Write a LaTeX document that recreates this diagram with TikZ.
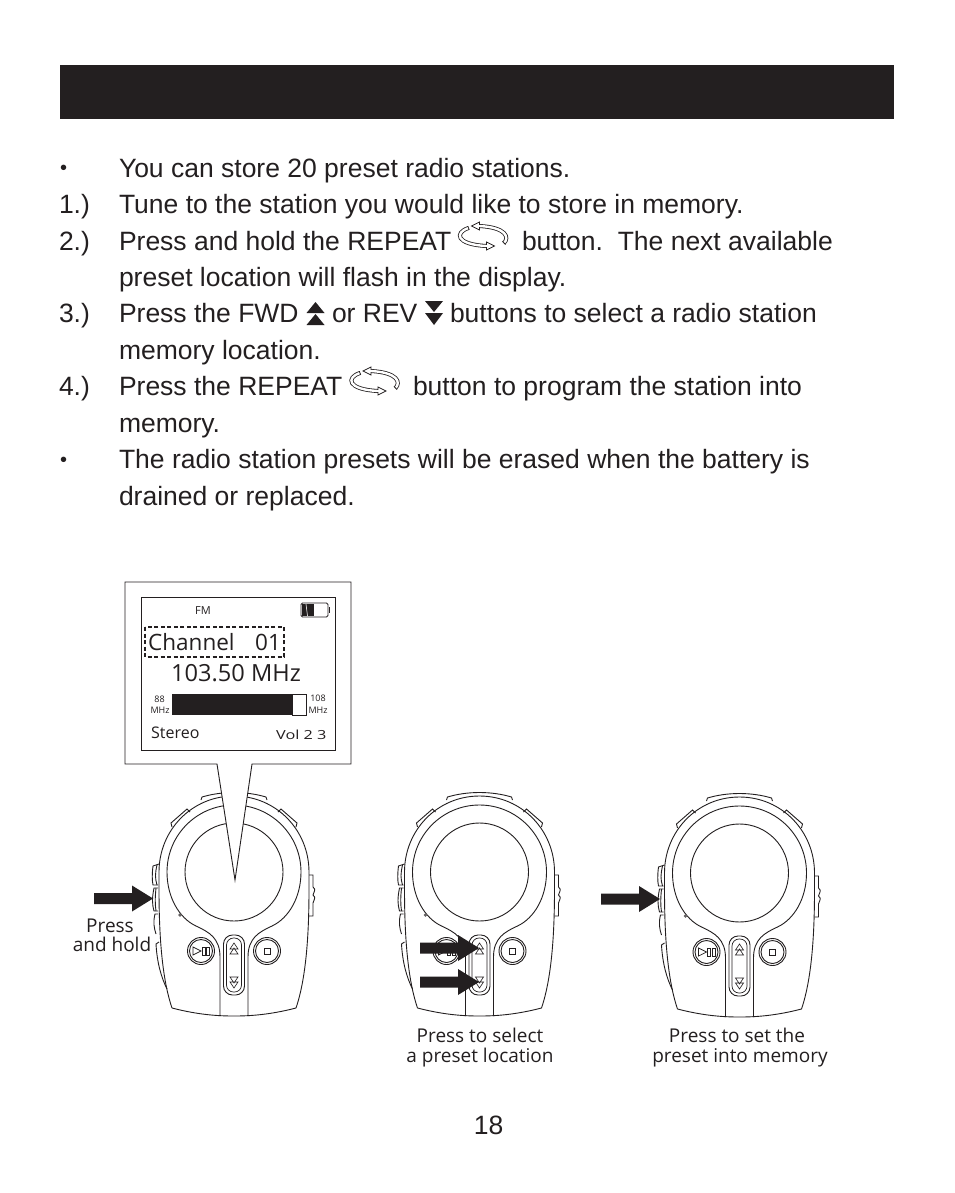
\documentclass[tikz,border=0pt]{standalone}
\usepackage{fontspec}
\usepackage{graphicx}
\setmainfont{Liberation Sans}
\newfontfamily\myr{Open Sans}
\definecolor{ink}{HTML}{231F20}
\tikzset{x=1pt,y=-1pt,
 body/.style={anchor=base west,inner sep=0pt,outer sep=0pt,text=ink,font=\fontsize{26.5}{26.5}\selectfont},
 bulletmark/.style={anchor=base west,inner sep=0pt,outer sep=0pt,text=ink,font=\fontsize{20}{20}\selectfont},
 captext/.style={anchor=base,inner sep=0pt,text=ink,font=\myr\fontsize{19}{19}\selectfont},
 lcd/.style={inner sep=0pt,text=ink},
 dev/.style={draw=ink,line width=0.9pt},
 bigarrow/.style={fill=ink,draw=none},
 rep/.style={draw=ink,line width=.8pt,double=white,double distance=2.4pt},
 rephead/.style={draw=ink,line width=.8pt,fill=white,line join=miter}}
\newcommand{\mydevice}[2]{%
\begin{scope}[shift={(#1,#2)},dev]
 % outline
 \draw[dev] (-62,136) .. controls (-76,95) and (-75,30) .. (-75,0) .. controls (-75,-42) and (-42,-76) .. (0,-76) .. controls (42,-76) and (75,-42) .. (75,0) .. controls (75,30) and (76,95) .. (62,136) .. controls (35,143) and (15,144) .. (0,144) .. controls (-15,144) and (-35,143) .. (-62,136);
 % ring and lower curves
 \draw[dev] (-14,144) -- (-14,85) .. controls (-14,66) and (-25,60) .. (-38,54) .. controls (-55,46) and (-67,25) .. (-67,0) arc[start angle=180,end angle=360,radius=67] .. controls (67,25) and (55,46) .. (38,54) .. controls (25,60) and (14,66) .. (14,85) -- (14,144);
 \draw[dev] (0,0) circle[radius=49];
 % side buttons, left
 \draw[dev] (-75,-8) -- (-81,-6) .. controls (-82,2) and (-82,8) .. (-81,13) -- (-76,13);
 \draw[dev] (-76,16) -- (-80,16) .. controls (-82,26) and (-82,32) .. (-80,39) -- (-76,39);
 \draw[dev] (-76,42) -- (-79,42) .. controls (-81,50) and (-80,56) .. (-78,62);
 \draw[dev] (-77,-7) .. controls (-79,2) and (-79,6) .. (-77,13);
 \draw[dev] (-78,16) .. controls (-79,26) and (-79,32) .. (-78,39);
 \draw[dev] (-75,70) -- (-78,72) .. controls (-77,90) and (-73,105) .. (-67,117);
 % right button
 \draw[dev] (75,3) -- (79,3) -- (79,15) .. controls (83,18) and (79,20) .. (79,23) .. controls (83,26) and (79,28) .. (79,31) -- (79,44) -- (75,44);
 % top buttons
 \draw[dev] (-33,-72) -- (-32,-75) .. controls (-12,-81) and (12,-81) .. (32,-75) -- (33,-72);
 \draw[dev] (-62,-45) -- (-63,-49) -- (-47,-63) -- (-44,-60);
 \draw[dev] (62,-45) -- (63,-49) -- (47,-63) -- (44,-60);
 % nub
 \fill[ink!70] (-54,43) circle[radius=1.8];
 % round buttons
 \draw[dev] (-33,79) circle[radius=13.5] (-33,79) circle[radius=11.5];
 \draw[dev,line width=.7pt] (-41,75) -- (-33,79) -- (-41,83) -- cycle;
 \draw[dev,line width=.7pt] (-32,75) rectangle (-29,83) (-27.5,75) rectangle (-24.5,83);
 \draw[dev] (33,79) circle[radius=13.5] (33,79) circle[radius=11.5];
 \draw[dev,line width=.7pt] (30,76) rectangle (36,82);
 % centre pill
 \draw[dev,rounded corners=9pt] (-10.5,63) rectangle (10.5,123);
 \draw[dev,rounded corners=7pt,line width=.7pt] (-7.5,66) rectangle (7.5,120);
 \draw[dev,line width=.6pt] (0,71) -- (-4,77) -- (4,77) -- cycle (0,76) -- (-4,82) -- (4,82) -- cycle;
 \draw[dev,line width=.6pt] (0,116) -- (-4,110) -- (4,110) -- cycle (0,111) -- (-4,105) -- (4,105) -- cycle;
\end{scope}}
\newcommand{\bigarr}[3]{% tail x, tip x, y
 \fill[bigarrow] (#1,#3-5.5) -- (#2-21,#3-5.5) -- (#2-21,#3-13) -- (#2,#3) -- (#2-21,#3+13) -- (#2-21,#3+5.5) -- (#1,#3+5.5) -- cycle;}
\newcommand{\repicon}[2]{%
\begin{scope}[shift={(#1,#2)}]
 \draw[rep] (-14,-8.5) .. controls (-28,-4) and (-27,8) .. (4,9.5);
 \draw[rep] (21.5,6.5) .. controls (27,1) and (24,-9) .. (-3,-10.5);
 \draw[rephead] (-3,-6.5) -- (-11,-10.5) -- (-3,-14.5) -- cycle;
 \draw[rephead] (4,5.5) -- (12,9.5) -- (4,13.5) -- cycle;
 \draw[ink,line width=.8pt] (-14.7,-10.3) -- (-13.3,-6.7) (20,4.8) -- (23,8.2);
 \draw[white,line width=1.2pt] (-3,-11.7) -- (-3,-9.3) (4,8.3) -- (4,10.7);
\end{scope}}
\begin{document}
\begin{tikzpicture}
\useasboundingbox (0,0) rectangle (954,1193);
\fill[white] (0,0) rectangle (954,1193);
\fill[ink] (60,65) rectangle (894,119);
% text
\node[bulletmark] (b1) at (60,175) {•};
\node[body] (t1) at (119,177.5) {You can store 20 preset radio stations.};
\node[body] (n1) at (59,213.5) {1.)};
\node[body] (t2) at (119,213.5) {Tune to the station you would like to store in memory.};
\node[body] (n2) at (59,250.5) {2.)};
\node[body] (t3) at (119,250.5) {Press and hold the REPEAT};
\node[body] (t3b) at (522,250.5) {button.\ \ The next available};
\node[body] (t4) at (119,286.5) {preset location will flash in the display.};
\node[body] (n3) at (59,322.5) {3.)};
\node[body] (t5) at (119,322.5) {Press the FWD};
\node[body] (t5b) at (332,322.5) {or REV};
\node[body] (t5c) at (450,322.5) {buttons to select a radio station};
\node[body] (t6) at (119,359.5) {memory location.};
\node[body] (n4) at (59,395.5) {4.)};
\node[body] (t7) at (119,395.5) {Press the REPEAT};
\node[body] (t7b) at (413,395.5) {button to program the station into};
\node[body] (t8) at (119,432.5) {memory.};
\node[bulletmark] (b2) at (60,466) {•};
\node[body] (t9) at (119,468.5) {The radio station presets will be erased when the battery is};
\node[body] (t10) at (119,505.5) {drained or replaced.};
\node[body,anchor=base] (pg) at (488.5,1134) {18};
% icons
\repicon{482.5}{236.5}
\repicon{374}{381.5}
\fill[ink] (315.5,302) -- (324.5,313) -- (306.5,313) -- cycle (315.5,314) -- (324.5,325) -- (306.5,325) -- cycle;
\fill[ink] (425,301) -- (443,301) -- (434,312) -- cycle (425,313) -- (443,313) -- (434,325) -- cycle;
% devices
\mydevice{234}{872}
\mydevice{479.5}{872}
\mydevice{739.5}{873}
% arrows
\bigarr{94}{153}{898.5}
\bigarr{420}{479}{948}
\bigarr{420}{479}{982}
\bigarr{601}{660}{899}
% callout
\draw[fill=white,draw=ink,line width=.9pt] (125,582) -- (351,582) -- (351,764) -- (252,764) -- (235,880) -- (217,764) -- (125,764) -- cycle;
\draw[draw=ink,line width=.9pt] (141,597) rectangle (335,750);
\node[lcd,font=\myr\fontsize{11}{11}\selectfont] (fm) at (203,611) {FM};
% battery
\draw[ink,line width=.9pt,rounded corners=1.5pt] (301,603) rectangle (328,617);
\draw[ink,line width=1.2pt] (329.5,607) -- (329.5,613);
\fill[ink] (302,604) rectangle (314,616);
\draw[white,line width=.6pt] (306,604) -- (307.5,616);
\draw[ink,dashed,line width=1.1pt,dash pattern=on 4pt off 2.5pt] (145,627) rectangle (284,657);
\node[lcd,anchor=base west,font=\myr\fontsize{22.5}{22.5}\selectfont] (ch) at (148,650) {Channel};
\node[lcd,anchor=base west,font=\myr\fontsize{22.5}{22.5}\selectfont] (num) at (255,650) {01};
\node[lcd,anchor=base west,font=\myr\fontsize{23.6}{23.6}\selectfont] (freq) at (171,681) {103.50 MHz};
\fill[ink] (172,694) rectangle (292,715);
\draw[ink,line width=.7pt,fill=white] (292,694) rectangle (306,715);
\node[lcd,font=\myr\fontsize{9}{9}\selectfont] (l1) at (159.5,699) {88};
\node[lcd,font=\myr\fontsize{9}{9}\selectfont] (l2) at (160,710) {MHz};
\node[lcd,font=\myr\fontsize{9}{9}\selectfont] (r1) at (318,698) {108};
\node[lcd,font=\myr\fontsize{9}{9}\selectfont] (r2) at (318,710) {MHz};
\node[lcd,anchor=base west,font=\myr\fontsize{16}{16}\selectfont] (st) at (151,738) {Stereo};
\node[lcd,anchor=base west,font=\myr\fontsize{12.5}{12.5}\selectfont] (vol) at (276,739) {\scalebox{1.3}[1]{Vol 2 3}};
% captions
\node[captext] (c1a) at (110,932) {Press};
\node[captext] (c1b) at (112,951) {and hold};
\node[captext] (c2a) at (480,1042) {Press to select};
\node[captext] (c2b) at (480,1062) {a preset location};
\node[captext] (c3a) at (737,1042) {Press to set the};
\node[captext] (c3b) at (740,1062) {preset into memory};
\end{tikzpicture}
\end{document}
